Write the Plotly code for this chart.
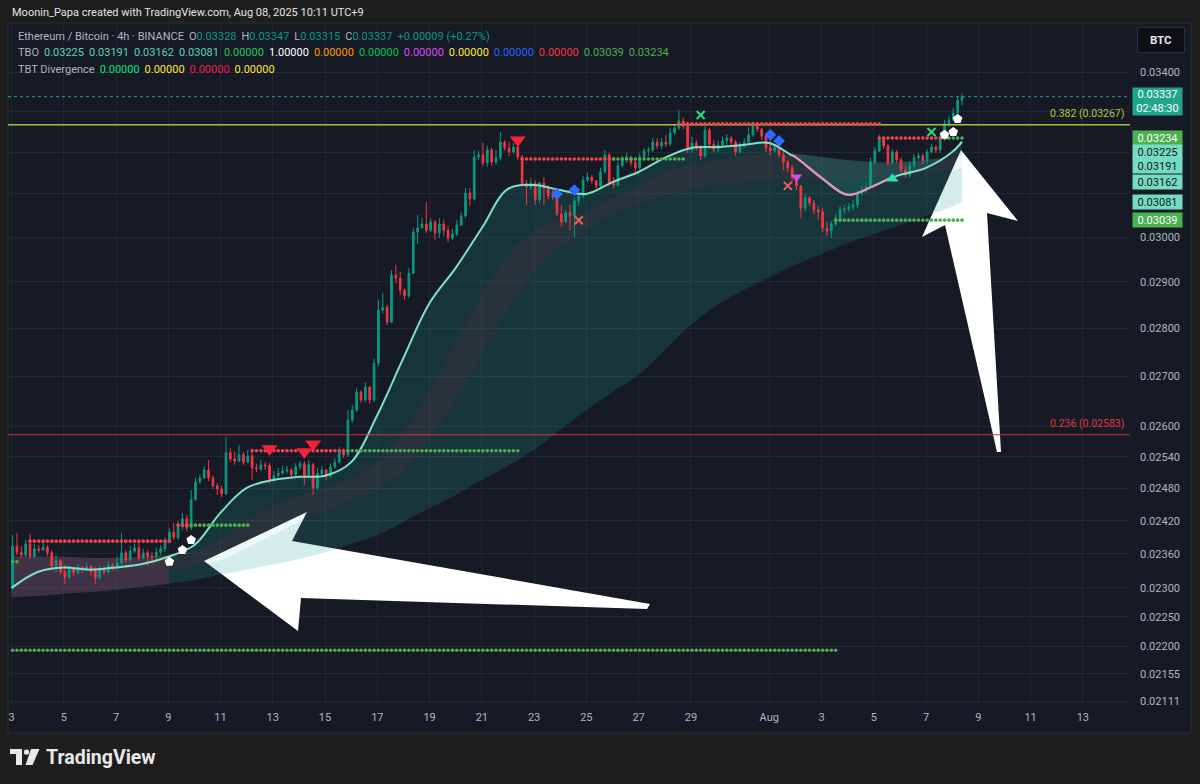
import math
import pandas as pd
import plotly.graph_objects as go

# ---------------- data: ETH/BTC 4h candles (prices in 1e-5 BTC), chart time = UTC+9 ----------------
candle_start = "2025-07-03 01:00"
first_open = 2300
close = [
    2374, 2363, 2358, 2378, 2356, 2369, 2367, 2372, 2362, 2339,
    2348, 2328, 2319, 2334, 2327, 2336, 2332, 2337, 2330, 2318,
    2332, 2328, 2339, 2336, 2344, 2362, 2349, 2365, 2371, 2353,
    2362, 2356, 2355, 2363, 2369, 2383, 2399, 2390, 2409, 2424,
    2407, 2459, 2492, 2500, 2515, 2500, 2485, 2479, 2470, 2548,
    2536, 2532, 2544, 2530, 2542, 2519, 2517, 2525, 2523, 2498,
    2504, 2509, 2513, 2515, 2506, 2521, 2527, 2504, 2525, 2481,
    2508, 2515, 2504, 2521, 2530, 2552, 2544, 2612, 2632, 2668,
    2652, 2678, 2652, 2727, 2839, 2845, 2813, 2915, 2908, 2882,
    2870, 2919, 3012, 3021, 3030, 3016, 3035, 3010, 3030, 3016,
    2998, 3007, 3028, 3049, 3102, 3088, 3188, 3193, 3174, 3205,
    3176, 3186, 3224, 3210, 3200, 3212, 3188, 3124, 3117, 3126,
    3086, 3126, 3114, 3095, 3093, 3053, 3035, 3056, 3049, 3084,
    3095, 3133, 3140, 3131, 3119, 3152, 3193, 3126, 3121, 3167,
    3181, 3188, 3174, 3162, 3188, 3203, 3205, 3224, 3215, 3224,
    3219, 3247, 3259, 3276, 3264, 3205, 3222, 3210, 3191, 3254,
    3219, 3207, 3217, 3227, 3234, 3224, 3200, 3215, 3224, 3242,
    3264, 3256, 3239, 3210, 3203, 3210, 3193, 3176, 3162, 3138,
    3119, 3067, 3091, 3079, 3063, 3058, 3021, 3014, 3030, 3044,
    3063, 3065, 3070, 3074, 3102, 3109, 3116, 3176, 3203, 3232,
    3215, 3174, 3200, 3181, 3157, 3145, 3167, 3186, 3191, 3179,
    3200, 3212, 3205, 3234, 3269, 3279, 3296, 3328, 3337,
]
high = [
    2394, 2398, 2374, 2385, 2396, 2378, 2376, 2380, 2376, 2367,
    2358, 2351, 2341, 2339, 2337, 2342, 2339, 2344, 2341, 2336,
    2339, 2337, 2346, 2344, 2355, 2398, 2367, 2374, 2378, 2381,
    2369, 2367, 2363, 2371, 2376, 2390, 2407, 2416, 2420, 2435,
    2431, 2477, 2500, 2507, 2523, 2534, 2504, 2490, 2485, 2579,
    2558, 2550, 2563, 2550, 2554, 2552, 2527, 2534, 2530, 2528,
    2513, 2519, 2523, 2523, 2519, 2528, 2532, 2532, 2534, 2528,
    2519, 2523, 2517, 2528, 2538, 2559, 2556, 2632, 2642, 2676,
    2672, 2688, 2680, 2736, 2861, 2876, 2850, 2926, 2938, 2922,
    2886, 2931, 3021, 3051, 3044, 3081, 3044, 3039, 3044, 3039,
    3025, 3019, 3039, 3058, 3114, 3114, 3205, 3203, 3222, 3215,
    3210, 3205, 3249, 3229, 3224, 3222, 3217, 3193, 3133, 3138,
    3133, 3128, 3140, 3121, 3109, 3098, 3074, 3063, 3074, 3091,
    3102, 3143, 3150, 3145, 3133, 3162, 3205, 3198, 3140, 3176,
    3191, 3198, 3191, 3181, 3198, 3210, 3212, 3234, 3234, 3234,
    3242, 3259, 3269, 3304, 3284, 3274, 3237, 3229, 3217, 3264,
    3259, 3229, 3227, 3237, 3244, 3239, 3229, 3224, 3234, 3261,
    3274, 3269, 3259, 3244, 3229, 3219, 3224, 3205, 3181, 3169,
    3143, 3121, 3100, 3095, 3086, 3072, 3067, 3035, 3037, 3053,
    3072, 3074, 3079, 3086, 3109, 3119, 3126, 3186, 3212, 3242,
    3239, 3219, 3207, 3205, 3186, 3167, 3176, 3196, 3198, 3196,
    3207, 3219, 3217, 3244, 3279, 3289, 3309, 3339, 3347,
]
low = [
    2297, 2358, 2353, 2354, 2351, 2353, 2362, 2365, 2356, 2334,
    2328, 2323, 2307, 2316, 2321, 2323, 2327, 2330, 2321, 2307,
    2314, 2323, 2325, 2330, 2332, 2339, 2344, 2346, 2362, 2348,
    2351, 2339, 2346, 2351, 2358, 2363, 2380, 2385, 2385, 2403,
    2401, 2403, 2457, 2489, 2498, 2494, 2479, 2468, 2464, 2468,
    2530, 2525, 2530, 2525, 2530, 2496, 2511, 2513, 2515, 2489,
    2492, 2500, 2506, 2508, 2500, 2502, 2515, 2487, 2500, 2468,
    2477, 2502, 2496, 2500, 2517, 2527, 2538, 2540, 2606, 2628,
    2646, 2648, 2644, 2648, 2721, 2832, 2807, 2811, 2897, 2872,
    2861, 2865, 2917, 2985, 3021, 3010, 3012, 2994, 2998, 3003,
    2989, 2994, 3003, 3025, 3044, 3072, 3086, 3181, 3167, 3164,
    3167, 3169, 3179, 3203, 3191, 3196, 3181, 3119, 3074, 3109,
    3074, 3079, 3074, 3088, 3086, 3049, 3025, 3035, 3016, 2998,
    3072, 3091, 3128, 3124, 3112, 3114, 3148, 3119, 3114, 3116,
    3162, 3174, 3167, 3152, 3157, 3183, 3191, 3200, 3207, 3207,
    3212, 3215, 3242, 3254, 3256, 3198, 3198, 3203, 3181, 3186,
    3212, 3200, 3200, 3215, 3217, 3217, 3191, 3196, 3210, 3217,
    3237, 3249, 3229, 3200, 3193, 3198, 3186, 3157, 3152, 3128,
    3109, 3044, 3060, 3072, 3053, 3039, 3012, 3003, 2998, 3025,
    3039, 3053, 3058, 3063, 3067, 3095, 3102, 3114, 3171, 3200,
    3207, 3167, 3171, 3174, 3150, 3138, 3138, 3159, 3179, 3171,
    3174, 3196, 3198, 3198, 3227, 3261, 3276, 3291, 3315,
]

# ---------------- TBO indicator lines (daily samples, 1e-5 BTC) ----------------
tbo_times = [f"2025-07-{d:02d}" for d in range(3, 32)] + [f"2025-08-{d:02d}" for d in range(1, 9)] + ["2025-08-08 09:00"]
tbo_mid = [2356, 2356, 2355, 2353, 2353, 2355, 2358, 2367, 2385, 2422, 2449, 2468, 2481, 2500, 2530, 2589, 2672, 2775, 2872,
           2960, 3016, 3044, 3058, 3091, 3119, 3152, 3169, 3181, 3191, 3198, 3196, 3188, 3181, 3176, 3176, 3181, 3188, 3191]
tbo_slowmid = [2318, 2319, 2323, 2325, 2327, 2328, 2332, 2339, 2349, 2371, 2394, 2418, 2436, 2459, 2477, 2515, 2573, 2652, 2744,
               2839, 2922, 2978, 3016, 3051, 3074, 3095, 3109, 3119, 3126, 3133, 3136, 3133, 3133, 3136, 3140, 3148, 3155, 3162]
tbo_slow = [2284, 2286, 2290, 2293, 2297, 2302, 2307, 2314, 2323, 2332, 2341, 2351, 2363, 2378, 2394, 2418, 2444, 2468, 2496,
            2523, 2554, 2593, 2632, 2668, 2703, 2754, 2807, 2850, 2882, 2911, 2938, 2962, 2987, 3007, 3028, 3049, 3070, 3081]
fast_times = tbo_times[:30] + ["2025-08-01 20:00"] + tbo_times[30:34] + ["2025-08-05 14:00"] + tbo_times[34:]
tbo_fast = [2300, 2328, 2336, 2332, 2336, 2342, 2355, 2376, 2435, 2481, 2496, 2502, 2504, 2530, 2622, 2738, 2854, 2931, 3021,
            3112, 3121, 3109, 3100, 3128, 3152, 3186, 3210, 3212, 3217, 3222, 3193, 3188, 3138, 3098, 3119, 3136, 3145,
            3162, 3200, 3225]
bear_start, bear_end = "2025-08-01 20:00", "2025-08-05 14:00"
cloud_switch = "2025-07-09"

# ---------------- dotted support / resistance levels ----------------
lvl_price = [2346, 2383, 2412, 2412, 2552, 2552, 3183, 3183, 3269, 3234, 3234, 3039, 2194]
lvl_from = [0, 4, 38, 41, 55, 77, 117, 138, 153, 199, 214, 189, 0]
lvl_to = [1, 36, 40, 54, 76, 116, 138, 154, 199, 213, 218, 218, 189]
lvl_kind = ["sup", "res", "res", "sup", "res", "sup", "res", "sup", "res", "res", "sup", "sup", "sup"]

# ---------------- signals ----------------
sell_t = ["2025-07-12 21:00", "2025-07-14 05:00", "2025-07-14 13:00", "2025-07-22 09:00"]
sell_p = [2556, 2550, 2565, 3229]
bear_t, bear_p = ["2025-08-02 01:00"], [3140]
bull_t, bull_p = ["2025-08-05 17:00"], [3136]
dia_t = ["2025-07-23 21:00", "2025-07-24 13:00", "2025-08-01 01:00", "2025-08-01 09:00"]
dia_p = [3100, 3109, 3242, 3227]
rx_t, rx_p = ["2025-07-24 17:00", "2025-08-01 17:00"], [3039, 3119]
gx_t, gx_p = ["2025-07-29 09:00", "2025-08-07 05:00"], [3291, 3249]
lab_t = ["2025-07-09 01:00", "2025-07-09 13:00", "2025-07-09 21:00", "2025-08-07 17:00", "2025-08-08 01:00", "2025-08-08 05:00"]
lab_p = [2346, 2367, 2385, 3242, 3249, 3281]

fib_level = [0.382, 0.236]
fib_price = [3267, 2583]

y_ticks = [3400, 3300, 3200, 3100, 3000, 2900, 2800, 2700, 2600, 2540, 2480, 2420, 2360, 2300, 2250, 2200, 2155, 2111]
y_hidden = [3300, 3200, 3100]
x_ticks = ["2025-07-03", "2025-07-05", "2025-07-07", "2025-07-09", "2025-07-11", "2025-07-13", "2025-07-15", "2025-07-17",
           "2025-07-19", "2025-07-21", "2025-07-23", "2025-07-25", "2025-07-27", "2025-07-29", "2025-08-01", "2025-08-03",
           "2025-08-05", "2025-08-07", "2025-08-09", "2025-08-11", "2025-08-13"]
x_labels = ["3", "5", "7", "9", "11", "13", "15", "17", "19", "21", "23", "25", "27", "29", "Aug", "3", "5", "7", "9", "11", "13"]

# ---------------- build ----------------
S = 1e5
P = lambda v: [x / S for x in v]
times = pd.date_range(candle_start, periods=len(close), freq="4h")
opens = [first_open] + close[:-1]

BG = "#161a25"
UP, DN = "#089981", "#f23645"
x_range = ["2025-07-02 20:47", "2025-08-14 19:19"]
y_range = [math.log10(0.021048), math.log10(0.035286)]
PL, PR, PT, PB = 8, 1130, 23, 705
fig = go.Figure()

# hand-drawn arrows (screen drawing, converted from screen position to axis space)
t0, t1 = pd.Timestamp(x_range[0]), pd.Timestamp(x_range[1])
def to_axes(pts):
    xs, ys = [], []
    for px, py in pts:
        xs.append(t0 + (t1 - t0) * ((px - PL) / (PR - PL)))
        ys.append(10 ** (y_range[0] + (y_range[1] - y_range[0]) * (PB - py) / (PB - PT)))
    return xs + xs[:1], ys + ys[:1]

arrow1 = [(204, 561), (307, 512), (292, 541), (650, 604), (647, 609), (301, 598), (298, 631)]
arrow2 = [(961, 150), (1018, 221), (987, 213), (1001, 452), (997, 452), (945, 225), (922, 237)]
for arr in (arrow1, arrow2):
    ax, ay = to_axes(arr)
    fig.add_trace(go.Scatter(x=ax, y=ay, mode="lines", fill="toself", fillcolor="#ffffff", line=dict(width=0),
                             hoverinfo="skip", showlegend=False, zorder=-2))

# TBO clouds
def band(t, lo, hi, color):
    fig.add_trace(go.Scatter(x=t, y=P(lo), mode="lines", line=dict(width=0, shape="spline"),
                             hoverinfo="skip", showlegend=False, zorder=-1))
    fig.add_trace(go.Scatter(x=t, y=P(hi), mode="lines", line=dict(width=0, shape="spline"), fill="tonexty",
                             fillcolor=color, hoverinfo="skip", showlegend=False, zorder=-1))

fast_daily = [v for t, v in zip(fast_times, tbo_fast) if t in set(tbo_times)]
k = tbo_times.index(cloud_switch)
e = slice(0, k + 1)
band(tbo_times[e], tbo_slow[e], tbo_slowmid[e], "rgba(160,105,150,0.30)")
band(tbo_times[e], tbo_slowmid[e], tbo_mid[e], "rgba(185,125,165,0.26)")
l = slice(k, None)
band(tbo_times[l], tbo_slow[l], tbo_slowmid[l], "rgba(38,166,154,0.20)")
band(tbo_times[l], tbo_slowmid[l], tbo_mid[l], "rgba(150,200,195,0.14)")
band(tbo_times[l], tbo_mid[l], fast_daily[k:], "rgba(38,166,154,0.19)")

# candles
fig.add_trace(go.Candlestick(x=times, open=P(opens), high=P(high), low=P(low), close=P(close),
                             increasing=dict(line=dict(color=UP, width=1), fillcolor=UP),
                             decreasing=dict(line=dict(color=DN, width=1), fillcolor=DN),
                             whiskerwidth=0, hoverinfo="skip", showlegend=False))

# fast line (teal, pink while bearish)
fig.add_trace(go.Scatter(x=fast_times, y=P(tbo_fast), mode="lines", line=dict(color="#7fe0c4", width=2, shape="spline"),
                         hoverinfo="skip", showlegend=False))
i0, i1 = fast_times.index(bear_start), fast_times.index(bear_end)
fig.add_trace(go.Scatter(x=fast_times[i0:i1 + 1], y=P(tbo_fast[i0:i1 + 1]), mode="lines",
                         line=dict(color="#f08cb8", width=2, shape="spline"), hoverinfo="skip", showlegend=False))

# horizontal lines: fib + current price
fig.add_trace(go.Scatter(x=x_range, y=[fib_price[0] / S] * 2, mode="lines", line=dict(color="#a6c33a", width=1.5),
                         hoverinfo="skip", showlegend=False))
fig.add_trace(go.Scatter(x=x_range, y=[fib_price[1] / S] * 2, mode="lines", line=dict(color="#d8343a", width=1.2),
                         hoverinfo="skip", showlegend=False))
fig.add_trace(go.Scatter(x=x_range, y=[close[-1] / S] * 2, mode="lines", line=dict(color="#1fa58d", width=1, dash="dot"),
                         hoverinfo="skip", showlegend=False))

# dotted levels
for p, a, b, kind in zip(lvl_price, lvl_from, lvl_to, lvl_kind):
    fig.add_trace(go.Scatter(x=times[a:b + 1], y=[p / S] * (b - a + 1), mode="markers",
                             marker=dict(symbol="circle", size=3.6, color="#f0424f" if kind == "res" else "#4caf50"),
                             hoverinfo="skip", showlegend=False))

def mk(t, p, **m):
    fig.add_trace(go.Scatter(x=t, y=P(p), mode="markers", marker=m, hoverinfo="skip", showlegend=False))

mk(sell_t, sell_p, symbol="triangle-down", size=14, color="#f8203f")
mk(bear_t, bear_p, symbol="triangle-down", size=10, color="#d24cf0")
mk(bull_t, bull_p, symbol="triangle-up", size=11, color="#2be3a4")
mk(dia_t, dia_p, symbol="diamond", size=9, color="#2f6bff")
mk(rx_t, rx_p, symbol="x-thin", size=8, line=dict(color="#f0605a", width=2))
mk(gx_t, gx_p, symbol="x-thin", size=8, line=dict(color="#27df7c", width=2))
mk(lab_t, lab_p, symbol="pentagon", size=10, color="#ffffff")

# ---------------- layout ----------------
shapes = []
shapes.append(dict(type="rect", xref="paper", yref="paper", x0=0, x1=(1191 - PL) / (PR - PL), y0=(PB - 733) / (PB - PT), y1=1,
                   fillcolor=BG, line=dict(color="#2a2e39", width=1), layer="below"))
# TradingView logo glyph
def prect(x0, y0, x1, y1, t="rect"):
    return dict(type=t, xref="paper", yref="paper", x0=(x0 - PL) / (PR - PL), x1=(x1 - PL) / (PR - PL),
                y0=(PB - y1) / (PB - PT), y1=(PB - y0) / (PB - PT), fillcolor="#e8e8e8", line=dict(width=0), layer="above")
shapes.append(prect(10, 749, 22, 754))
shapes.append(prect(16, 749, 22, 765))
shapes.append(prect(23.8, 749.4, 29.2, 754.8, "circle"))
pts = [(31, 749), (39.5, 749), (32.5, 765), (25.5, 765)]
shapes.append(dict(type="path", xref="paper", yref="paper",
                   path="M " + " L ".join(f"{(x - PL) / (PR - PL):.5f},{(PB - y) / (PB - PT):.5f}" for x, y in pts) + " Z",
                   fillcolor="#e8e8e8", line=dict(width=0), layer="above"))

FONT = "Roboto"
GRAY = "#b2b5be"
ann = []
def pa(px, py, text, size=11, color="#d1d4dc", xanchor="left", **kw):
    x, y = (px - PL) / (PR - PL), (PB - py) / (PB - PT)
    ann.append(dict(xref="paper", yref="paper", x=x, y=y, text=text, showarrow=False, xanchor=xanchor, yanchor="middle",
                    font=dict(family=FONT, size=size, color=color), **kw))

def sp(t, c):
    return f"<span style='color:{c}'>{t}</span>"

G = " \u2009"
pa(10, 12, "Moonin_Papa created with TradingView.com, Aug 08, 2025 10:11 UTC+9", size=11, color="#e3e3e3")
hdr = (sp("Ethereum / Bitcoin · 4h · BINANCE", GRAY) + G +
       sp("O", GRAY) + sp(f"{opens[-1] / S:.5f}", UP) + G + sp("H", GRAY) + sp(f"{high[-1] / S:.5f}", UP) + G +
       sp("L", GRAY) + sp(f"{low[-1] / S:.5f}", UP) + G + sp("C", GRAY) + sp(f"{close[-1] / S:.5f}", UP) + G +
       sp("+0.00009 (+0.27%)", UP))
pa(16, 37, hdr)
tbo_hdr_vals = [tbo_fast[-1] / S, tbo_mid[-1] / S, tbo_slowmid[-1] / S, tbo_slow[-1] / S, 0, 1, 0, 0, 0, 0, 0, 0,
                lvl_price[11] / S, lvl_price[10] / S]
tbo_hdr_cols = ["#56d3b4", "#56d3b4", "#56d3b4", "#56d3b4", "#22c55e", "#ffffff", "#ff9800", "#00c853", "#d84cf5",
                "#ffeb3b", "#2962ff", "#f23645", "#4caf50", "#4caf50"]
pa(16, 53, sp("TBO", GRAY) + "".join(G + sp(f"{v:.5f}", c) for v, c in zip(tbo_hdr_vals, tbo_hdr_cols)))
tbt_cols = ["#00e676", "#ffe53b", "#e91e4c", "#ffe53b"]
pa(16, 69, sp("TBT Divergence", GRAY) + "".join(G + sp("0.00000", c) for c in tbt_cols))

# fib labels
for lv, pr, col, dy in ((fib_level[0], fib_price[0], "#b5c93e", 11), (fib_level[1], fib_price[1], "#e2383e", 11)):
    ann.append(dict(xref="paper", yref="y", x=(1126 - PL) / (PR - PL), y=math.log10(pr / S), yshift=dy,
                    text=f"{lv} ({pr / S:.5f})", showarrow=False, xanchor="right", yanchor="middle",
                    font=dict(family=FONT, size=10.5, color=col)))

# price-scale labels
XL = (1132 - PL) / (PR - PL)
def plabel(val, text, bg, fg, shift=0, h=12):
    ann.append(dict(xref="paper", yref="y", x=XL, y=math.log10(val), yshift=shift, text=text, showarrow=False,
                    xanchor="left", yanchor="middle", bgcolor=bg, borderpad=1, width=47, height=h,
                    font=dict(family=FONT, size=11, color=fg)))

MINT = "#74dcbf"
plabel(close[-1] / S, f"{close[-1] / S:.5f}<br>02:48:30", "#1fa58d", "#ffffff", shift=-5, h=25)
plabel(lvl_price[10] / S, f"{lvl_price[10] / S:.5f}", "#4caf50", "#ffffff")
plabel(tbo_fast[-1] / S, f"{tbo_fast[-1] / S:.5f}", MINT, "#131722", shift=-10)
plabel(tbo_mid[-1] / S, f"{tbo_mid[-1] / S:.5f}", MINT, "#131722", shift=-10)
plabel(tbo_slowmid[-1] / S, f"{tbo_slowmid[-1] / S:.5f}", MINT, "#131722", shift=-14)
plabel(tbo_slow[-1] / S, f"{tbo_slow[-1] / S:.5f}", MINT, "#131722")
plabel(lvl_price[11] / S, f"{lvl_price[11] / S:.5f}", "#4caf50", "#ffffff")

# BTC button and logo text
pa(1161, 40, "<b>BTC</b>", size=11.5, color="#e8e8e8", xanchor="center", bgcolor="#0e1016",
   bordercolor="#2a2e39", borderwidth=1, borderpad=5, width=36)
pa(44, 757, "<b>TradingView</b>", size=19.5, color="#e8e8e8")

fig.update_layout(
    width=1200, height=784, margin=dict(l=PL, r=1200 - PR, t=PT, b=784 - PB),
    paper_bgcolor="#1e1e1e", plot_bgcolor=BG, showlegend=False, boxgap=0.45, hovermode=False,
    font=dict(family=FONT, size=11, color=GRAY), shapes=shapes, annotations=ann,
    xaxis=dict(type="date", range=x_range, tickvals=x_ticks, ticktext=x_labels, showgrid=True, gridcolor="#222633",
               zeroline=False, showline=False, ticks="", tickfont=dict(size=11, color=GRAY), ticklabelstandoff=4,
               rangeslider=dict(visible=False), fixedrange=True),
    yaxis=dict(type="log", side="right", range=y_range,
               tickvals=[v / S for v in y_ticks],
               ticktext=["" if v in y_hidden else f"{v / S:.5f}" for v in y_ticks],
               showgrid=True, gridcolor="#222633", zeroline=False, showline=False, ticks="",
               tickfont=dict(size=11, color=GRAY), ticklabelstandoff=9, fixedrange=True),
)

fig.write_html("out.html", config={"displayModeBar": False},
               post_script="document.body.style.margin='0';document.body.style.overflow='hidden';")
